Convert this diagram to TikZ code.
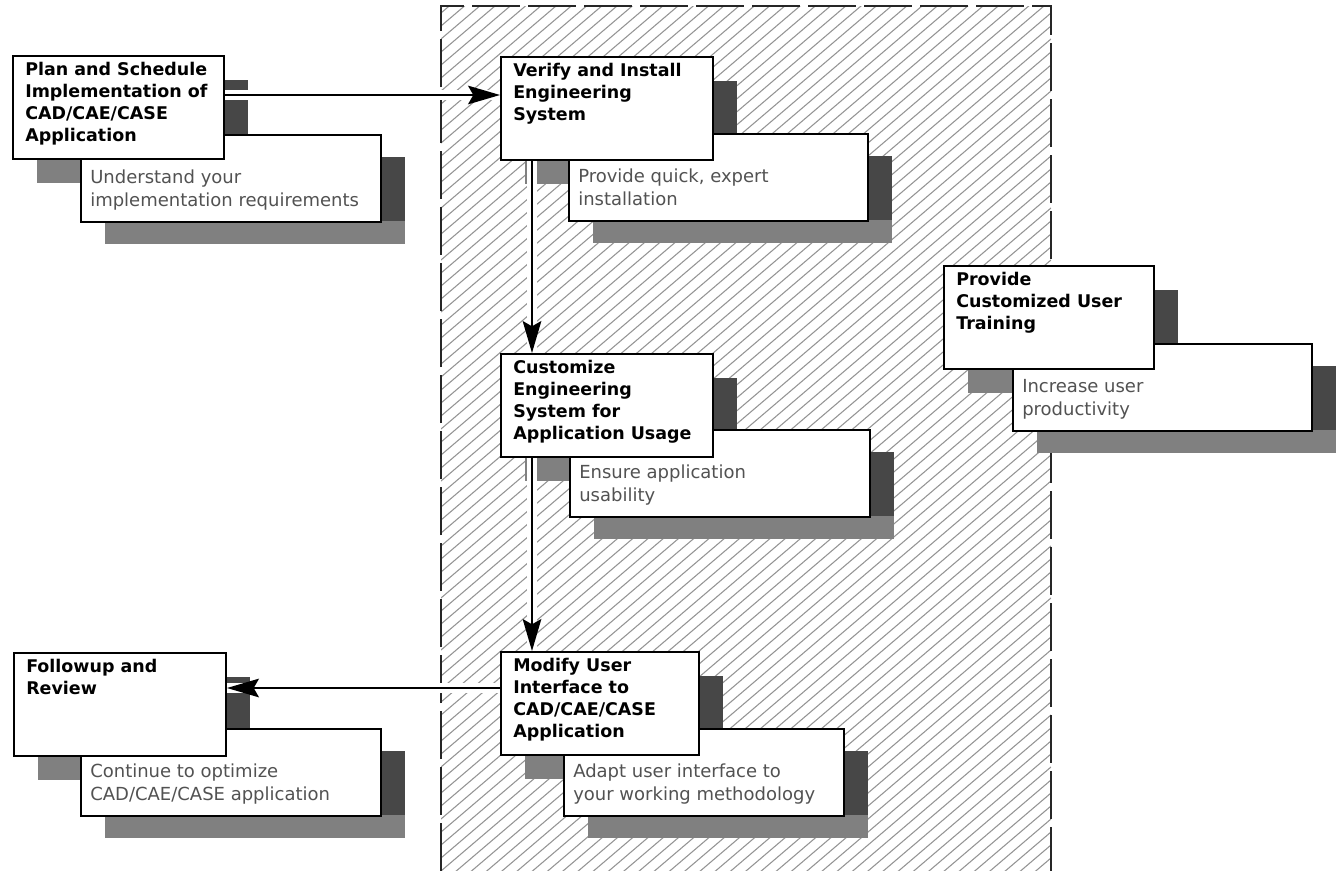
\documentclass[tikz,border=0pt]{standalone}
\usepackage{fontspec}
\usetikzlibrary{arrows.meta}
\newfontfamily\titlefont{DejaVu Sans}
\newfontfamily\descfont{DejaVu Sans}
\colorlet{desccol}{black!68}
\pgfdeclarelayer{hatch}
\pgfdeclarelayer{shade}
\pgfdeclarelayer{links}
\pgfsetlayers{hatch,shade,links,main}
\tikzset{
  shadelight/.style={fill=black!50},
  shadedark/.style={fill=black!72},
  boxshape/.style={draw=black, line width=1.5pt, fill=white, anchor=north west, inner sep=0pt, rectangle},
  titletext/.style={anchor=north west, inner sep=0pt, align=left, font=\titlefont\bfseries\fontsize{13.1}{16.5}\selectfont},
  desctext/.style={anchor=north west, inner sep=0pt, align=left, text=desccol, font=\descfont\fontsize{13.5}{17.25}\selectfont},
  link/.style={line width=1.1pt, -{Stealth[length=24pt,width=14pt,inset=4pt]}, preaction={draw=white, line width=7pt, -}},
  hatchline/.style={draw=black!42, line width=0.8pt},
  edgedash/.style={draw=black!85, line width=1.5pt, dash pattern=on 36pt off 6pt}
}
\newcommand\stepgroup[9]{%
  \begin{pgfonlayer}{shade}
    \fill[shadelight] (#2+25,#3+25) rectangle (#2+#4+25,#3+128);
    \fill[shadedark] (#2+#4,#3+25) rectangle (#2+#4+25,#3+103);
    \fill[shadelight] (#5+25,#6+23) rectangle (#5+#7+25,#6+110);
    \fill[shadedark] (#5+#7,#6+23) rectangle (#5+#7+25,#6+87);
  \end{pgfonlayer}
  \node[boxshape, minimum width=#7*0.75pt, minimum height=87*0.75pt] (#1d) at (#5,#6) {};
  \node[boxshape, minimum width=#4*0.75pt, minimum height=103*0.75pt] (#1) at (#2,#3) {};
  \node[titletext] (#1t) at (#2+13,#3+7) {#8};
  \node[desctext] (#1x) at (#5+10,#6+36) {#9};
}
\begin{document}
\begin{tikzpicture}[x=0.75pt, y=-0.75pt]
\useasboundingbox (0,0) rectangle (1343,871);
\begin{pgfonlayer}{hatch}
  \fill[white] (0,0) rectangle (1343,871);
  \begin{scope}
    \clip (441,6) rectangle (1051,871);
    \foreach \c in {0,13,...,1400} \draw[hatchline] (441,\c) -- (1051,\c-520);
  \end{scope}
  \draw[edgedash] (441,871) -- (441,6) -- (1051,6) -- (1051,871);
\end{pgfonlayer}

\stepgroup{plan}{12}{55}{211}{80}{134}{300}{Plan and Schedule\\Implementation of\\CAD/CAE/CASE\\Application}{Understand your\\implementation requirements}
\stepgroup{verify}{500}{56}{212}{568}{133}{299}{Verify and Install\\Engineering\\System}{Provide quick, expert\\installation}
\stepgroup{train}{943}{265}{210}{1012}{343}{299}{Provide\\Customized User\\Training}{Increase user\\productivity}
\stepgroup{custom}{500}{353}{212}{569}{429}{300}{Customize\\Engineering\\System for\\Application Usage}{Ensure application\\usability}
\stepgroup{modify}{500}{651}{198}{563}{728}{280}{Modify User\\Interface to\\CAD/CAE/CASE\\Application}{Adapt user interface to\\your working methodology}
\stepgroup{follow}{13}{652}{212}{80}{728}{300}{Followup and\\Review}{Continue to optimize\\CAD/CAE/CASE application}

\begin{pgfonlayer}{links}
  \coordinate (a1) at ([yshift=-30pt]plan.north east);
  \draw[link] (a1) -- (a1 -| verify.west);
  \coordinate (a2) at ([xshift=24pt]verify.south west);
  \draw[link] (a2) -- (a2 |- custom.north);
  \coordinate (a3) at ([xshift=24pt]custom.south west);
  \draw[link] (a3) -- (a3 |- modify.north);
  \coordinate (a4) at ([yshift=-27.75pt]modify.north west);
  \draw[link] (a4) -- (a4 -| follow.east);
\end{pgfonlayer}
\end{tikzpicture}
\end{document}
